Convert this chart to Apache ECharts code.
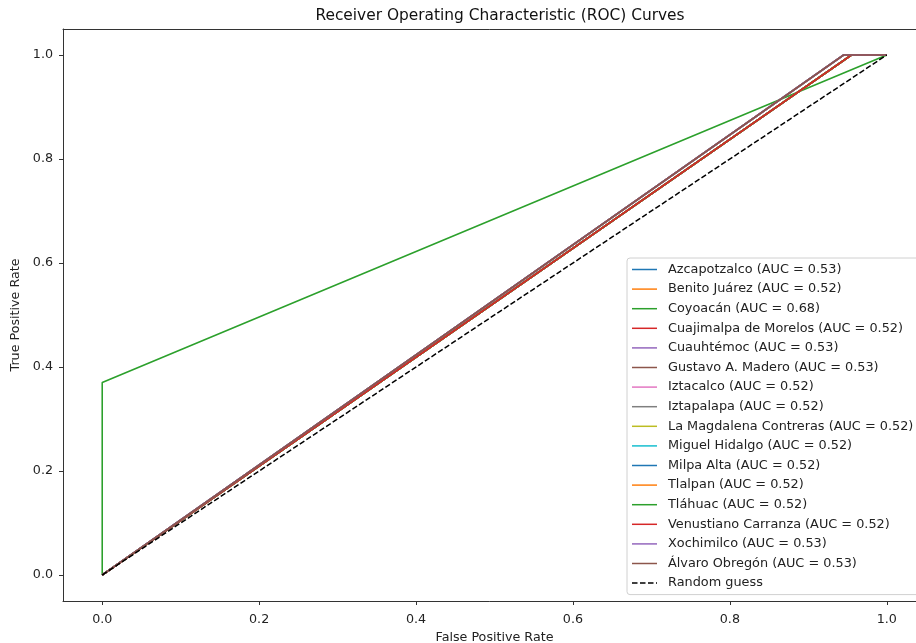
<!DOCTYPE html>
<html>
<head>
<meta charset="utf-8">
<script src="https://cdn.jsdelivr.net/npm/echarts@6/dist/echarts.min.js"></script>
<style>html,body{margin:0;padding:0;background:#fff}#c{width:916px;height:643px}</style>
</head>
<body>
<div id="c"></div>
<script>
const districts = ['Azcapotzalco','Benito Juárez','Coyoacán','Cuajimalpa de Morelos','Cuauhtémoc','Gustavo A. Madero','Iztacalco','Iztapalapa','La Magdalena Contreras','Miguel Hidalgo','Milpa Alta','Tlalpan','Tláhuac','Venustiano Carranza','Xochimilco','Álvaro Obregón'];
const aucValues = [0.53,0.52,0.68,0.52,0.53,0.53,0.52,0.52,0.52,0.52,0.52,0.52,0.52,0.52,0.53,0.53];
const fprPoints = [
  [0,0.945,1],[0,0.955,1],[0,0,1],[0,0.955,1],[0,0.945,1],[0,0.945,1],[0,0.955,1],[0,0.955,1],
  [0,0.955,1],[0,0.955,1],[0,0.955,1],[0,0.955,1],[0,0.955,1],[0,0.955,1],[0,0.945,1],[0,0.945,1]
];
const tprPoints = [
  [0,1,1],[0,1,1],[0,0.37,1],[0,1,1],[0,1,1],[0,1,1],[0,1,1],[0,1,1],
  [0,1,1],[0,1,1],[0,1,1],[0,1,1],[0,1,1],[0,1,1],[0,1,1],[0,1,1]
];
const randomFpr = [0,1];
const randomTpr = [0,1];
const tickValues = [0,0.2,0.4,0.6,0.8,1.0];
const palette = ['#1f77b4','#ff7f0e','#2ca02c','#d62728','#9467bd','#8c564b','#e377c2','#7f7f7f','#bcbd22','#17becf'];

const FONT = 'DejaVu Sans';
const solidIcon = 'path://M0,0h25v1.5h-25z';
const dashIcon = 'path://M0,0h5.5v1.5h-5.5z M8,0h5.5v1.5h-5.5z M16,0h5.5v1.5h-5.5z M24,0h1v1.5h-1z';

const series = districts.map((d, i) => ({
  name: d + ' (AUC = ' + aucValues[i].toFixed(2) + ')',
  type: 'line',
  data: fprPoints[i].map((x, j) => [x, tprPoints[i][j]]),
  symbol: 'none',
  showSymbol: false,
  lineStyle: {width: 1.6, color: palette[i % 10]},
  itemStyle: {color: palette[i % 10]},
  animation: false,
  z: 2
}));
series.push({
  name: 'Random guess',
  type: 'line',
  data: randomFpr.map((x, j) => [x, randomTpr[j]]),
  symbol: 'none',
  showSymbol: false,
  lineStyle: {width: 1.5, color: '#000', type: [5.5, 2.4]},
  itemStyle: {color: '#000'},
  animation: false,
  z: 2
});

const axisText = {fontFamily: FONT, fontSize: 12.7, color: '#222'};
const chart = echarts.init(document.getElementById('c'), null, {renderer: 'canvas'});
chart.setOption({
  backgroundColor: '#fff',
  animation: false,
  textStyle: {fontFamily: FONT},
  title: {
    text: 'Receiver Operating Characteristic (ROC) Curves',
    left: 495, top: 3, textAlign: 'center',
    textStyle: {fontFamily: FONT, fontSize: 15.4, fontWeight: 'normal', color: '#111'}
  },
  grid: {left: 63, top: 29, width: 863, height: 572, outerBoundsMode: 'none', containLabel: false, show: false},
  xAxis: [{
    type: 'value', min: -0.05, max: 1.05,
    name: 'False Positive Rate', nameLocation: 'middle', nameGap: 27,
    nameTextStyle: axisText,
    axisLine: {show: true, onZero: false, lineStyle: {color: '#333', width: 1}},
    axisTick: {show: true, inside: false, length: 4, customValues: tickValues, lineStyle: {color: '#333'}},
    axisLabel: Object.assign({customValues: tickValues, formatter: v => v.toFixed(1), margin: 12}, axisText),
    splitLine: {show: false}
  }, {
    type: 'value', min: -0.05, max: 1.05, position: 'top',
    axisLine: {show: true, onZero: false, lineStyle: {color: '#333', width: 1}},
    axisTick: {show: false}, axisLabel: {show: false}, splitLine: {show: false}
  }],
  yAxis: {
    type: 'value', min: -0.05, max: 1.05,
    name: 'True Positive Rate', nameLocation: 'middle', nameGap: 36,
    nameTextStyle: axisText,
    axisLine: {show: true, onZero: false, lineStyle: {color: '#333', width: 1}},
    axisTick: {show: true, inside: false, length: 4, customValues: tickValues, lineStyle: {color: '#333'}},
    axisLabel: Object.assign({customValues: tickValues, formatter: v => v.toFixed(1), margin: 10}, axisText),
    splitLine: {show: false}
  },
  legend: {
    orient: 'vertical', left: 627, top: 258,
    padding: [5, 15, 5, 5],
    itemWidth: 25, itemHeight: 12, itemGap: 6.6,
    symbolKeepAspect: true,
    borderColor: '#d0d0d0', borderWidth: 1, borderRadius: 3,
    backgroundColor: 'rgba(255,255,255,0.8)',
    textStyle: {fontFamily: FONT, fontSize: 12.85, color: '#222', padding: [0, 0, 0, 6]},
    data: series.map((s, i) => ({name: s.name, icon: i === series.length - 1 ? dashIcon : solidIcon}))
  },
  series: series
});
</script>
</body>
</html>
